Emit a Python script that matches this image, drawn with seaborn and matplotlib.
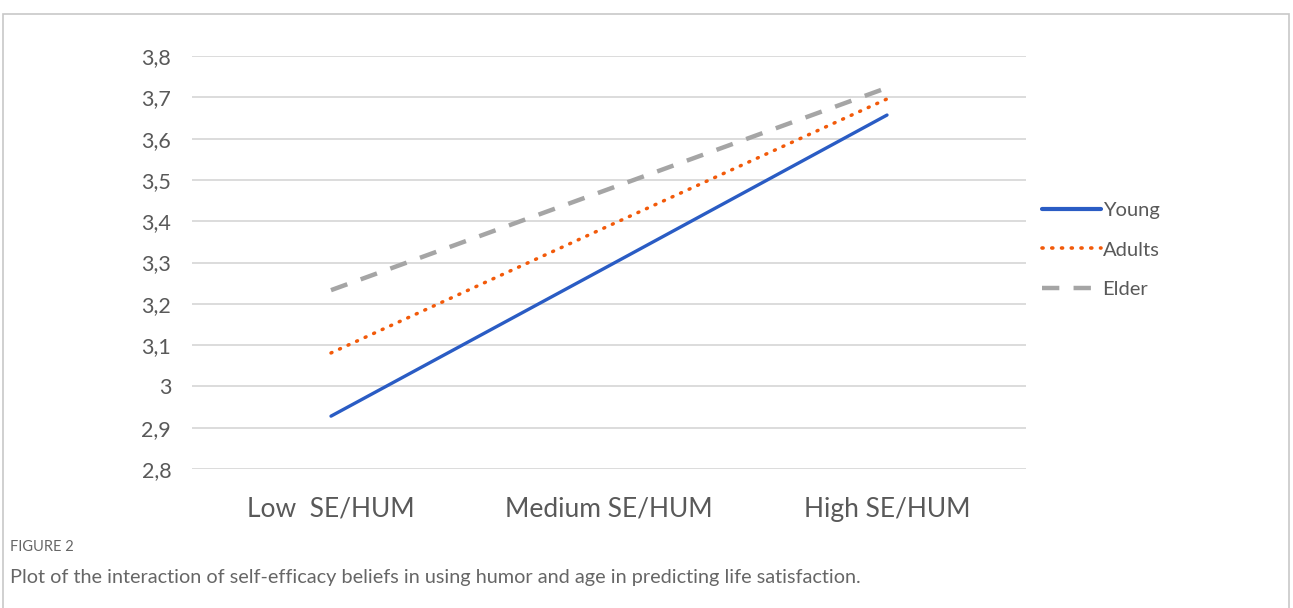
import pandas as pd
import numpy as np
import matplotlib.pyplot as plt
import matplotlib.patches as mpatches
import seaborn as sns

# Données
levels = ["Low  SE/HUM", "Medium SE/HUM", "High SE/HUM"]
young = [2.928, 3.292, 3.657]
adults = [3.081, 3.389, 3.696]
elder = [3.233, 3.478, 3.723]
groups = ["Young", "Adults", "Elder"]
y_ticks = [2.8, 2.9, 3.0, 3.1, 3.2, 3.3, 3.4, 3.5, 3.6, 3.7, 3.8]
y_tick_labels = ["2,8", "2,9", "3", "3,1", "3,2", "3,3", "3,4", "3,5", "3,6", "3,7", "3,8"]

df = pd.DataFrame({
    "level": levels * 3,
    "pos": list(range(3)) * 3,
    "value": young + adults + elder,
    "group": [g for g in groups for _ in levels],
})

sns.set_theme(style="white")
plt.rcParams['font.family'] = ['Lato', 'DejaVu Sans']

fig = plt.figure(figsize=(12.93, 6.08), dpi=100)
ax = fig.add_axes([192 / 1293, 1 - 469 / 608, (1026 - 192) / 1293, (469 - 56) / 608])

# cadre gris autour de la figure
fig.patches.append(mpatches.Rectangle((3 / 1293, -0.05), 1286 / 1293, 1 - 14 / 608 + 0.05,
                                      transform=fig.transFigure, fill=False,
                                      edgecolor="#c8c8c8", linewidth=1.2, zorder=0))

palette = {"Young": "#2a5cc4", "Adults": "#f25a0a", "Elder": "#a5a5a5"}
dot = (0.3, 2.4)
dash = (3.9, 3.2)
dashes = {"Young": "", "Adults": dot, "Elder": dash}
sns.lineplot(data=df, x="pos", y="value", hue="group", style="group",
             palette=palette, dashes=dashes, linewidth=2.4, ax=ax, legend=False)

for line, g in zip(ax.get_lines(), groups):
    if g == "Adults":
        line.set_dash_capstyle("round")
        line.set_linewidth(2.5)
    if g == "Elder":
        line.set_linewidth(3.2)

ax.set_xlim(-0.5, 2.5)
ax.set_ylim(2.8, 3.8)
ax.set_yticks(y_ticks)
ax.set_yticklabels(y_tick_labels)
ax.set_xticks(range(3))
ax.set_xticklabels(levels)
ax.grid(axis="y", color="#d9d9d9", linewidth=1.3)
ax.set_axisbelow(True)
for s in ax.spines.values():
    s.set_visible(False)
ax.tick_params(axis="y", labelsize=15.5, labelcolor="#595959", pad=15, length=0)
ax.tick_params(axis="x", labelsize=19, labelcolor="#595959", pad=20, length=0)
ax.set_xlabel("")
ax.set_ylabel("")

# légende
handles = [plt.Line2D([], [], color=palette[g], linewidth=l, linestyle=ls, dash_capstyle=cs)
           for g, l, ls, cs in zip(groups, [3, 2.6, 3.2],
                                   ["-", (0, dot), (0, dash)],
                                   ["butt", "round", "butt"])]
fig.legend(handles, groups, loc="center left", bbox_to_anchor=(1024 / 1293, 1 - 250 / 608),
           frameon=False, fontsize=14.5, labelcolor="#595959", handlelength=2.9,
           handletextpad=0.1, labelspacing=1.1)

fig.text(10 / 1293, 1 - 547 / 608, "FIGURE 2", fontsize=10.5, color="#666666", va="center",
         fontstretch="condensed")
fig.text(10 / 1293, 1 - 578 / 608,
         "Plot of the interaction of self-efficacy beliefs in using humor and age in predicting life satisfaction.",
         fontsize=14.3, color="#666666", va="center")

fig.savefig("out.png", dpi=100)
